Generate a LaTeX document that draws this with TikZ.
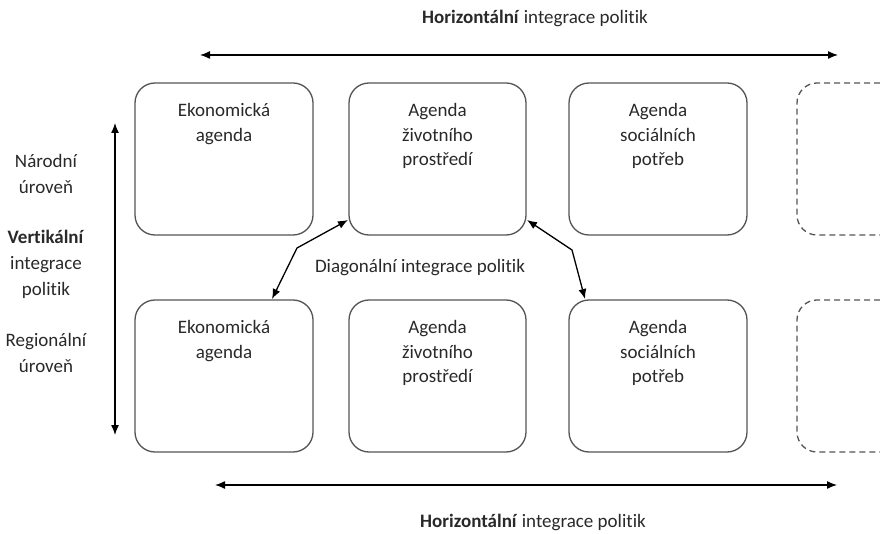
\documentclass[tikz,border=0pt]{standalone}
\usepackage{fontspec}
\setmainfont[Ligatures={NoCommon,NoRequired,NoContextual},Contextuals={NoAlternate}]{Carlito}
\usetikzlibrary{arrows.meta,calc}
\definecolor{txt}{rgb}{0.16,0.16,0.16}
\definecolor{boxline}{rgb}{0.33,0.33,0.33}
\begin{document}
\begin{tikzpicture}[x=1pt,y=-1pt,
  agbox/.style={draw=boxline,line width=1.3pt,rounded corners=20pt,minimum width=178pt,minimum height=152pt,inner sep=0pt},
  agtext/.style={anchor=north,align=center,inner sep=0pt,text=txt,font=\fontsize{19}{24.5}\selectfont},
  lbl/.style={align=center,inner sep=0pt,text=txt,font=\fontsize{19}{26}\selectfont},
  dbox/.style={draw=boxline,line width=1.3pt,dash pattern=on 6pt off 4pt,rounded corners=20pt},
  arr/.style={line width=1.3pt,{Latex[length=10pt,width=8pt]}-{Latex[length=10pt,width=8pt]}}
]
\useasboundingbox (0,0) rectangle (880,534);
% boxes
\node[agbox] (t1) at (224,159) {};
\node[agbox,minimum width=177pt] (t2) at (437.5,159) {};
\node[agbox] (t3) at (658,159) {};
\node[agbox] (b1) at (224,376) {};
\node[agbox,minimum width=177pt] (b2) at (437.5,376) {};
\node[agbox] (b3) at (658,376) {};
% dashed boxes (cut off at right edge)
\draw[dbox] (880,83) -- (797,83) -- (797,235) -- (880,235);
\draw[dbox] (880,300) -- (797,300) -- (797,452) -- (880,452);
% box texts
\node[agtext] (t1x) at ($(t1.north)+(0,21)$) {Ekonomická\\agenda};
\node[agtext] (t2x) at ($(t2.north)+(0,21)$) {Agenda\\životního\\prostředí};
\node[agtext] (t3x) at ($(t3.north)+(0,21)$) {Agenda\\sociálních\\potřeb};
\node[agtext] (b1x) at ($(b1.north)+(0,21)$) {Ekonomická\\agenda};
\node[agtext] (b2x) at ($(b2.north)+(0,21)$) {Agenda\\životního\\prostředí};
\node[agtext] (b3x) at ($(b3.north)+(0,21)$) {Agenda\\sociálních\\potřeb};
% labels
\node[lbl] (top) at (535,18) {\textbf{Horizontální} integrace politik};
\node[lbl] (bot) at (533,522) {\textbf{Horizontální} integrace politik};
\node[lbl] (nar) at (46,174) {Národní\\úroveň};
\node[lbl] (ver) at (46,264) {\textbf{Vertikální}\\integrace\\politik};
\node[lbl] (reg) at (46,353) {Regionální\\úroveň};
\node[lbl] (dia) at (420,268) {Diagonální integrace politik};
% horizontal and vertical arrows
\coordinate (ha1) at (200,55); \coordinate (ha2) at (838,55);
\coordinate (hb1) at (215,485); \coordinate (hb2) at (837,485);
\coordinate (va1) at (115,123); \coordinate (va2) at (115,435);
\draw[arr] (ha1) -- (ha2);
\draw[arr] (hb1) -- (hb2);
\draw[arr] (va1) -- (va2);
% diagonal arrows
\coordinate (dl1) at (348,220); \coordinate (dlm) at (297,248); \coordinate (dl2) at (272,299);
\coordinate (dr1) at (527,220); \coordinate (drm) at (572,250); \coordinate (dr2) at (585,299);
\draw[arr] (dl1) -- (dlm) -- (dl2);
\draw[arr] (dr1) -- (drm) -- (dr2);
\end{tikzpicture}
\end{document}
